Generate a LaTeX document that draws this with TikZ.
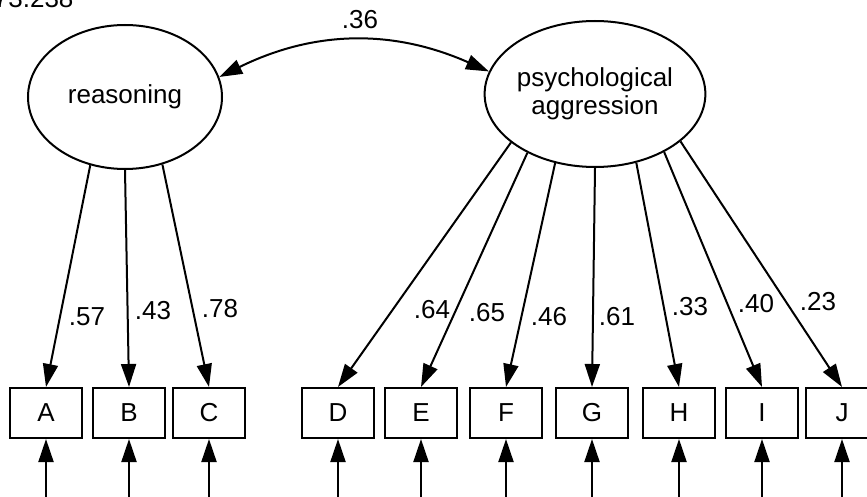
\documentclass[tikz,border=0pt]{standalone}
\usepackage{fontspec}
\setmainfont{Liberation Sans}
\usetikzlibrary{shapes.geometric,arrows.meta}

\begin{document}
\begin{tikzpicture}[x=1pt,y=1pt,
    font=\fontsize{26}{28}\selectfont,
    latent/.style={draw,ellipse,line width=2pt,inner sep=0pt},
    observed/.style={draw,rectangle,line width=2pt,minimum width=72pt,minimum height=50pt,inner sep=0pt},
    regarrow/.style={line width=2pt,-{Triangle[length=23pt,width=15pt]}},
    corarrow/.style={line width=2pt,{Triangle[length=23pt,width=15pt]}-{Triangle[length=23pt,width=15pt]}}]
  \useasboundingbox (0,0) rectangle (867,496);

  % Fit value, cut at the top edge
  \node[anchor=base east] (chisq) at (77,488) {73.238};

  % Latent factors
  \node[latent,minimum width=194pt,minimum height=144pt] (reason) at (125,399) {reasoning};
  \node[latent,minimum width=190pt,minimum height=146pt,align=center] (psych) at (595,402) {psychological\\aggression};

  % Correlation between the factors
  \draw[corarrow] (reason.12) to[bend left=25] (psych.168);
  \node (corlab) at (360,476) {.36};

  % Observed items and their error terms
  \foreach \name/\x in {A/46,B/129,C/209,D/338,E/421,F/506,G/592,H/679,I/762,J/842} {
    \node[observed] (\name) at (\x,83) {\name};
    \coordinate (err\name) at (\x,-10);
    \draw[regarrow] (err\name) -- (\name);
  }

  % Loadings
  \foreach \name/\ang in {A/243,B/270,C/299}
    \draw[regarrow] (reason.\ang) -- (\name.north);
  \foreach \name/\ang in {D/210,E/221,F/240,G/270,H/301,I/320,J/331}
    \draw[regarrow] (psych.\ang) -- (\name.north);

  % Loading values
  \foreach \val/\x/\y [count=\i] in {.57/87/179,.43/153/185,.78/220/187,.64/432/186,.65/487/183,
      .46/549/179,.61/617/179,.33/690/189,.40/756/192,.23/818/194}
    \node (lab\i) at (\x,\y) {\val};
\end{tikzpicture}
\end{document}
